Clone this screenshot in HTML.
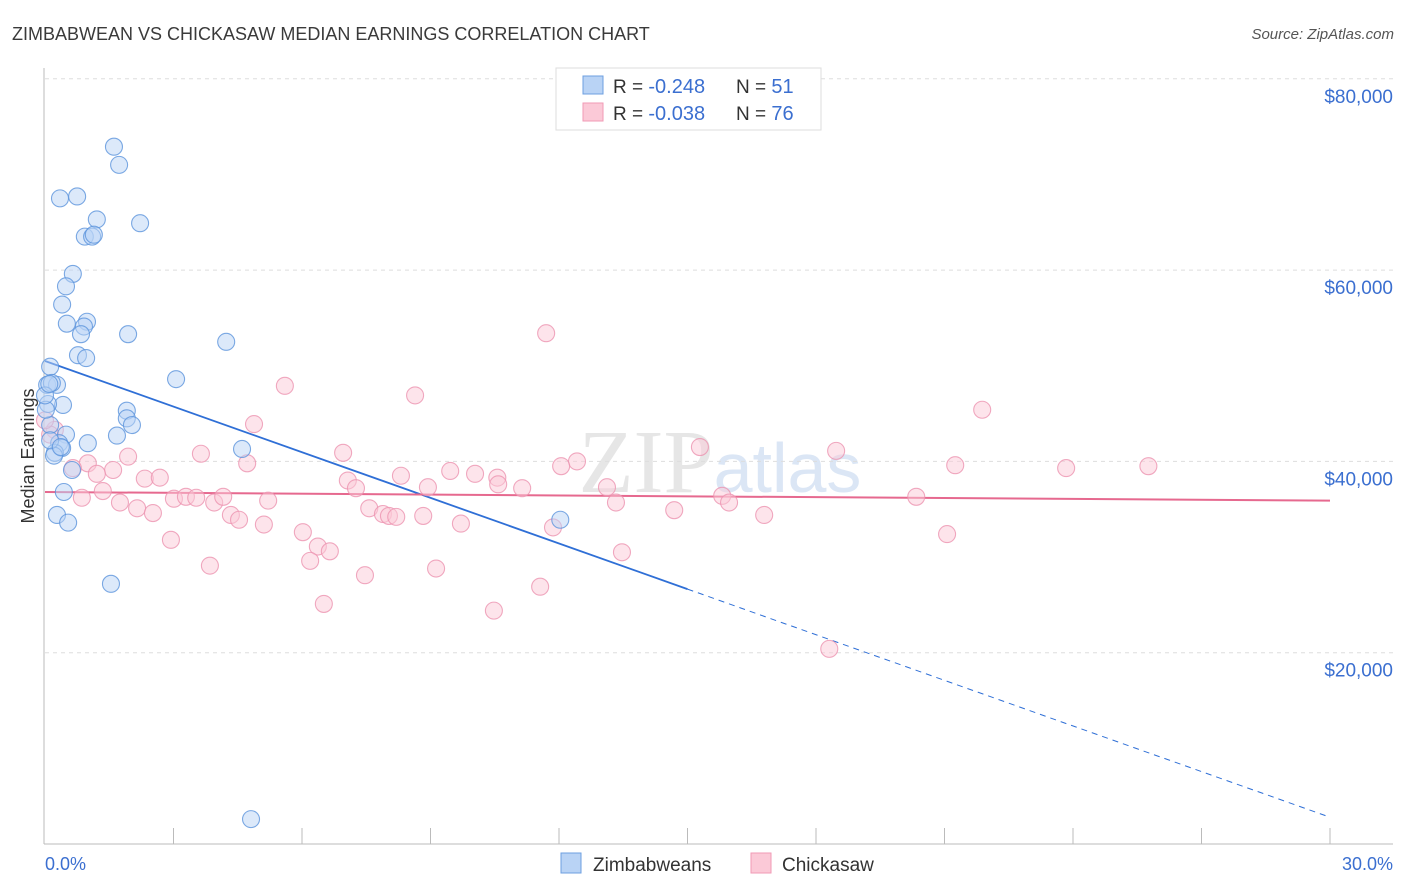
<!DOCTYPE html>
<html><head><meta charset="utf-8"><style>
body{margin:0;background:#fff;font-family:"Liberation Sans",sans-serif;}
svg{display:block}
</style></head><body>
<svg id="chart" width="1406" height="892" viewBox="0 0 1406 892" xmlns="http://www.w3.org/2000/svg">
<text x="12" y="40" font-size="18" fill="#3a3a3a">ZIMBABWEAN VS CHICKASAW MEDIAN EARNINGS CORRELATION CHART</text>
<text x="1394" y="39" font-size="15" fill="#555" text-anchor="end" font-style="italic">Source: ZipAtlas.com</text>
<text x="720" y="492" font-size="90" fill="#e6e6e6" text-anchor="middle" font-family="Liberation Serif, serif">ZIP<tspan fill="#dbe6f5" font-family="Liberation Sans, sans-serif" font-size="70">atlas</tspan></text>
<g id="grid"></g>
<g id="axes"></g>
<g id="trends"></g>
<g id="points"></g>
<text transform="translate(34,456) rotate(-90)" font-size="18" fill="#333" text-anchor="middle">Median Earnings</text>
<text x="45" y="870" font-size="18" fill="#3b6fd0">0.0%</text>
<text x="1393" y="870" font-size="18" fill="#3b6fd0" text-anchor="end">30.0%</text>
<g>
<rect x="556" y="68" width="265" height="62" fill="#fff" stroke="#ddd"/>
<rect x="583" y="76" width="20" height="18" fill="#b9d3f5" stroke="#6d9fe0"/>
<rect x="583" y="103" width="20" height="18" fill="#fbc9d7" stroke="#f09ab5"/>
<text x="613" y="93" font-size="19" fill="#333">R = <tspan fill="#3b6fd0" font-size="20">-0.248</tspan><tspan x="736">N = </tspan><tspan fill="#3b6fd0" font-size="20">51</tspan></text>
<text x="613" y="120" font-size="19" fill="#333">R = <tspan fill="#3b6fd0" font-size="20">-0.038</tspan><tspan x="736">N = </tspan><tspan fill="#3b6fd0" font-size="20">76</tspan></text>
</g>
<g>
<rect x="561" y="853" width="20" height="20" fill="#b9d3f5" stroke="#6d9fe0"/>
<text x="593" y="871" font-size="19" fill="#333">Zimbabweans</text>
<rect x="751" y="853" width="20" height="20" fill="#fbc9d7" stroke="#f09ab5"/>
<text x="782" y="871" font-size="19" fill="#333">Chickasaw</text>
</g>
</svg>
<script>
const yTicks=[20000,40000,60000,80000];
const yTickLabels=["$20,000","$40,000","$60,000","$80,000"];
const xTicks=[3,6,9,12,15,18,21,24,27,30];
const blueX=[1.61,1.73,0.35,0.75,1.21,2.22,0.93,1.10,1.14,0.65,0.49,0.40,0.51,0.98,0.91,0.84,1.94,4.23,0.77,0.96,3.06,0.12,0.05,0.28,0.16,0.42,0.07,1.91,1.91,2.03,0.12,1.68,0.49,4.60,1.00,0.33,0.40,0.23,0.21,0.63,0.44,0.28,0.54,12.03,1.54,4.81,0.02,0.12,0.37,0.0,0.1];
const blueY=[72.9,71.0,67.5,67.7,65.3,64.9,63.5,63.5,63.7,59.6,58.3,56.4,54.4,54.6,54.1,53.3,53.3,52.5,51.1,50.8,48.6,49.9,48.0,48.0,48.2,45.9,46.0,45.3,44.5,43.8,43.8,42.7,42.8,41.3,41.9,41.9,41.4,40.9,40.6,39.1,36.8,34.4,33.6,33.9,27.2,2.6,45.4,42.2,41.5,46.9,48.1];
const pinkX=[5.60,8.64,11.70,21.88,4.88,0.23,3.64,6.96,15.29,18.47,21.25,23.84,25.76,4.72,12.42,12.05,9.46,10.04,8.31,10.56,1.00,1.59,1.94,0.65,1.21,2.33,2.68,7.07,7.26,8.94,10.58,11.14,13.12,15.81,15.97,20.34,0.86,1.35,3.01,3.29,3.53,3.95,4.16,5.21,1.75,2.15,2.52,7.57,7.89,8.03,8.20,8.83,13.33,14.69,16.79,4.34,4.53,5.11,9.71,11.86,6.02,2.94,21.06,6.37,6.65,13.47,6.19,3.85,9.13,7.47,11.56,6.51,10.48,18.31,0.12,0.0];
const pinkY=[47.9,46.9,53.4,45.4,43.9,43.3,40.8,40.9,41.5,41.1,39.6,39.3,39.5,39.8,40.0,39.5,39.0,38.7,38.5,38.3,39.8,39.1,40.5,39.3,38.7,38.2,38.3,38.0,37.2,37.3,37.6,37.2,37.3,36.4,35.7,36.3,36.2,36.9,36.1,36.3,36.2,35.7,36.3,35.9,35.7,35.1,34.6,35.1,34.5,34.3,34.2,34.3,35.7,34.9,34.4,34.4,33.9,33.4,33.5,33.1,32.6,31.8,32.4,31.1,30.6,30.5,29.6,29.1,28.8,28.1,26.9,25.1,24.4,20.4,42.8,44.3];
const blueTrend=[50.5,2.8];
const blueSolidEnd=15;
const pinkTrend=[36.8,35.9];
const NS="http://www.w3.org/2000/svg";
const X=v=>45+v/30*1285;
const Y=v=>844-v/20*191.3;
function mk(t,a,p){const e=document.createElementNS(NS,t);for(const k in a)e.setAttribute(k,a[k]);p.appendChild(e);return e;}
const grid=document.getElementById('grid'),axes=document.getElementById('axes'),tr=document.getElementById('trends'),pts=document.getElementById('points');
yTicks.forEach((t,i)=>{
 const y=Y(t/1000);
 const l=mk('line',{x1:45,x2:1393,y1:y,y2:y,stroke:'#ddd','stroke-dasharray':'4,4'},grid);
 
 
 const tx=mk('text',{x:1393,y:y+24,'font-size':19,fill:'#3b6fd0','text-anchor':'end'},axes);
 tx.textContent=yTickLabels[i];
 
 
});
const ax=mk('line',{x1:44,x2:44,y1:68,y2:844,stroke:'#bbb'},axes);


const bx=mk('line',{x1:44,x2:1393,y1:844,y2:844,stroke:'#bbb'},axes);


xTicks.forEach(t=>{
 const tk=mk('line',{x1:X(t),x2:X(t),y1:828,y2:844,stroke:'#bbb'},axes);
 
 
});
const bt=(x)=>blueTrend[0]+(blueTrend[1]-blueTrend[0])*x/30;
function dot(x,y,fill,stroke,name){
 const c=mk('circle',{cx:X(x),cy:Y(y),r:8.5,fill:fill,'fill-opacity':0.5,stroke:stroke,'stroke-opacity':0.8,'stroke-width':1.1},pts);
 
 
}
pinkX.forEach((x,i)=>dot(x,pinkY[i],'#fbc9d7','#ec93b0','chickasaw-point'));
blueX.forEach((x,i)=>dot(x,blueY[i],'#b9d3f5','#5b93dc','zimbabwean-point'));
const l1=mk('line',{x1:X(0),y1:Y(blueTrend[0]),x2:X(blueSolidEnd),y2:Y(bt(blueSolidEnd)),stroke:'#2f6fd6','stroke-width':1.8},tr);


const l2=mk('line',{x1:X(blueSolidEnd),y1:Y(bt(blueSolidEnd)),x2:X(30),y2:Y(blueTrend[1]),stroke:'#2f6fd6','stroke-width':1,'stroke-dasharray':'6,5'},tr);


const l3=mk('line',{x1:X(0),y1:Y(pinkTrend[0]),x2:X(30),y2:Y(pinkTrend[1]),stroke:'#e6698f','stroke-width':2},tr);


</script>
</body></html>
